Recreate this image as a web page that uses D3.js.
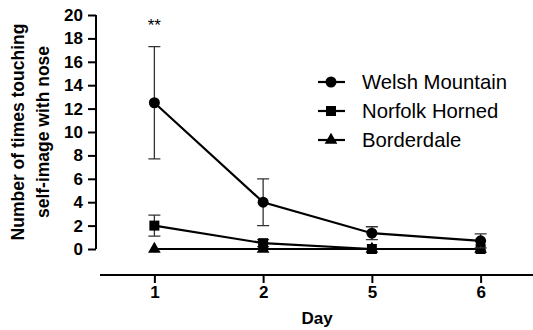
<!DOCTYPE html>
<html><head><meta charset="utf-8">
<script src="https://cdn.jsdelivr.net/npm/d3@7"></script>
<style>body{margin:0;background:#fff}svg{display:block}text{font-family:"Liberation Sans",Arial,sans-serif}</style>
</head><body><svg id="c" width="533" height="330"></svg>
<script>
const days = ["1","2","5","6"];
const seriesNames = ["Welsh Mountain","Norfolk Horned","Borderdale"];
const welsh = [12.5, 4.0, 1.35, 0.7];
const welshErr = [4.8, 2.0, 0.55, 0.6];
const norfolk = [2.0, 0.5, 0.0, 0.0];
const norfolkErr = [0.9, 0.3, 0, 0];
const borderdale = [0, 0, 0, 0];
const borderdaleErr = [0, 0, 0, 0];
const yTicks = [0,2,4,6,8,10,12,14,16,18,20];
const symbols = [d3.symbolCircle, d3.symbolSquare, d3.symbolTriangle];
const symSizes = [95, 100, 70];

const svg = d3.select("#c");
const x = d3.scalePoint().domain(days).range([100, 535]).padding(0.5);
const y = d3.scaleLinear().domain([0, 20]).range([249, 15]);

// y axis
const ya = svg.append("g").attr("transform","translate(96,0)")
  .call(d3.axisLeft(y).tickValues(yTicks).tickSize(8).tickPadding(5));
ya.select(".domain").attr("stroke-width",2).attr("d","M0,"+y(20)+"V"+y(0));
ya.selectAll(".tick line").attr("stroke-width",2);
ya.selectAll("text").attr("font-size",17).attr("font-weight","bold").attr("fill","#000");

// x axis
const xa = svg.append("g").attr("transform","translate(0,275)")
  .call(d3.axisBottom(x).tickSize(8).tickPadding(3));
xa.select(".domain").attr("stroke-width",2).attr("d","M100,0H533");
xa.selectAll(".tick line").attr("stroke-width",2);
xa.selectAll("text").attr("font-size",17).attr("font-weight","bold").attr("fill","#000");

svg.append("text").attr("x",317).attr("y",324).attr("text-anchor","middle")
  .attr("font-size",17).attr("font-weight","bold").text("Day");
const yl = svg.append("text").attr("transform","translate(0,132) rotate(-90)")
  .attr("text-anchor","middle").attr("font-size",17.5).attr("font-weight","bold");
yl.append("tspan").attr("x",0).attr("y",24).text("Number of times touching");
yl.append("tspan").attr("x",0).attr("y",49).text("self-image with nose");

svg.append("text").attr("x",x("1")).attr("y",31).attr("text-anchor","middle")
  .attr("font-size",17).text("**");

const data = [
  {vals: welsh, err: welshErr},
  {vals: norfolk, err: norfolkErr},
  {vals: borderdale, err: borderdaleErr}
];
const line = d3.line().x((d,i)=>x(days[i])).y(d=>y(d));
[2,1,0].forEach(si=>{
  const s = data[si];
  const g = svg.append("g");
  s.vals.forEach((v,i)=>{
    const e = s.err[i];
    if(e>0){
      const cx = x(days[i]);
      g.append("path").attr("d",`M${cx},${y(v+e)}V${y(v-e)}M${cx-6},${y(v+e)}H${cx+6}M${cx-6},${y(v-e)}H${cx+6}`)
        .attr("stroke","#333").attr("stroke-width",1.3).attr("fill","none");
    }
  });
  g.append("path").attr("d",line(s.vals)).attr("fill","none").attr("stroke","#000").attr("stroke-width",2.2);
  s.vals.forEach((v,i)=>{
    g.append("path").attr("d",d3.symbol().type(symbols[si]).size(symSizes[si])())
      .attr("transform",`translate(${x(days[i])},${y(v)})`).attr("fill","#000");
  });
});

// legend
const leg = svg.append("g");
const legY = [82, 111, 140];
seriesNames.forEach((n,i)=>{
  leg.append("line").attr("x1",318).attr("x2",345).attr("y1",legY[i]).attr("y2",legY[i])
    .attr("stroke","#000").attr("stroke-width",2.2);
  leg.append("path").attr("d",d3.symbol().type(symbols[i]).size(symSizes[i])())
    .attr("transform",`translate(331,${legY[i]})`).attr("fill","#000");
  leg.append("text").attr("x",362).attr("y",legY[i]+7).attr("font-size",20.3).text(n);
});
</script></body></html>
